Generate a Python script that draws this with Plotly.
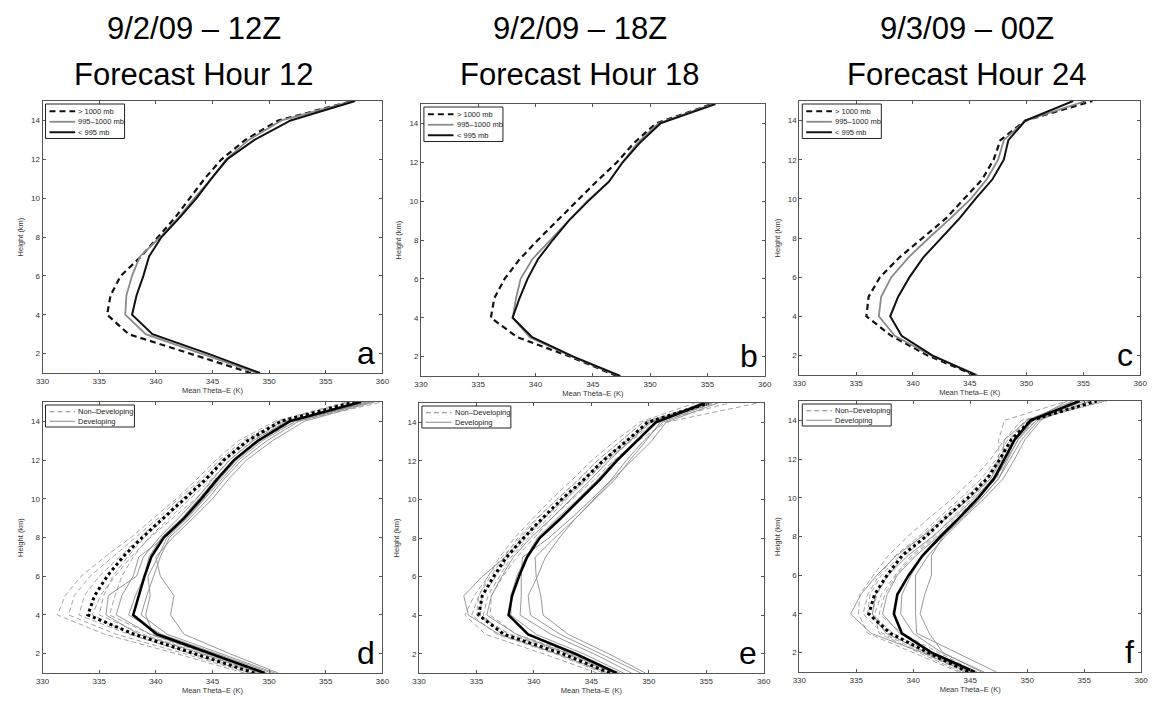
import plotly.graph_objects as go

HEIGHTS = list(range(1, 16))

# ---- top row: mean theta-e by minimum pressure class ----
A_GT1000 = [348.4, 343.1, 337.6, 335.7, 336.0, 336.9, 338.7, 340.2, 341.7, 343.0, 344.3, 345.8, 347.9, 350.8, 357.4]
A_995_1000 = [348.9, 344.0, 339.1, 337.3, 337.4, 337.9, 338.6, 340.4, 342.0, 343.4, 344.9, 346.2, 348.2, 351.1, 357.4]
A_LT995 = [349.2, 344.6, 339.7, 337.9, 338.3, 338.9, 339.4, 340.5, 342.1, 343.6, 344.9, 346.3, 348.7, 351.9, 357.6]

B_GT1000 = [347.1, 343.0, 338.4, 336.1, 336.4, 337.3, 338.6, 340.2, 341.9, 343.6, 345.3, 347.1, 348.6, 350.5, 355.4]
B_995_1000 = [347.3, 343.2, 339.5, 338.0, 338.3, 338.7, 339.7, 341.3, 342.9, 344.5, 346.4, 347.6, 348.9, 350.7, 355.5]
B_LT995 = [347.4, 343.3, 339.7, 338.0, 338.6, 339.3, 340.2, 341.5, 342.9, 344.6, 346.4, 347.6, 349.1, 350.9, 355.7]

C_GT1000 = [345.4, 341.3, 338.1, 335.9, 336.1, 337.1, 338.8, 340.9, 342.9, 344.5, 346.1, 347.1, 347.7, 349.9, 355.8]
C_995_1000 = [345.7, 341.6, 338.4, 337.0, 337.2, 338.1, 339.6, 341.4, 343.3, 345.1, 346.5, 347.5, 348.0, 349.9, 355.2]
C_LT995 = [345.5, 341.7, 339.0, 338.0, 338.7, 339.7, 340.9, 342.5, 344.1, 345.5, 347.0, 348.0, 348.4, 349.9, 354.1]

# ---- bottom row: individual members and means ----
D_NONDEV_MEAN = [348.7, 343.4, 338.1, 334.0, 334.6, 335.7, 337.1, 338.8, 340.7, 342.5, 344.4, 346.0, 348.1, 351.0, 357.5]
D_DEV_MEAN = [349.6, 344.9, 340.1, 338.0, 338.5, 339.0, 339.6, 340.7, 342.5, 344.0, 345.4, 346.9, 349.0, 351.8, 358.1]
D_NONDEV = [
    [347.8, 341.8, 335.5, 331.3, 332.0, 333.4, 335.5, 337.8, 339.8, 341.8, 343.6, 345.3, 347.3, 350.5, 356.8],
    [348.2, 342.5, 336.5, 332.3, 332.8, 334.2, 336.2, 338.2, 340.2, 342.0, 344.0, 345.6, 347.7, 350.8, 357.2],
    [348.9, 343.3, 337.6, 333.2, 333.7, 335.0, 336.8, 338.6, 340.5, 342.3, 344.2, 345.9, 348.0, 351.2, 358.0],
    [349.3, 344.0, 338.9, 335.0, 335.4, 336.2, 337.5, 339.0, 340.8, 342.7, 344.6, 346.2, 348.3, 351.3, 359.0],
    [349.6, 344.4, 339.5, 335.9, 336.4, 337.0, 338.0, 339.4, 341.2, 343.0, 344.9, 346.5, 348.5, 351.6, 359.5],
    [348.5, 343.0, 337.8, 334.4, 335.1, 336.4, 337.8, 339.5, 341.5, 343.5, 345.2, 347.0, 349.0, 352.4, 360.0],
]
D_DEV = [
    [349.2, 344.0, 338.5, 335.6, 335.8, 338.3, 338.9, 340.3, 342.0, 343.6, 345.0, 346.5, 348.6, 351.5, 357.8],
    [349.8, 344.8, 339.5, 336.5, 337.0, 338.0, 338.5, 340.8, 342.8, 344.3, 345.8, 347.3, 349.4, 352.3, 358.6],
    [350.2, 345.3, 340.5, 337.6, 338.2, 339.0, 339.4, 340.5, 342.3, 343.8, 345.3, 346.8, 348.9, 351.7, 358.0],
    [350.5, 345.8, 341.0, 338.7, 339.2, 339.8, 340.4, 341.2, 343.0, 344.6, 346.0, 347.6, 349.8, 352.6, 358.9],
    [350.8, 346.5, 342.5, 341.3, 341.6, 340.4, 340.0, 341.5, 343.3, 345.0, 346.4, 348.0, 350.3, 353.1, 359.2],
    [349.5, 344.5, 339.8, 339.1, 339.5, 339.3, 340.2, 341.0, 342.7, 344.2, 345.6, 347.1, 349.2, 352.0, 358.3],
]

E_NONDEV_MEAN = [346.6, 342.5, 337.4, 335.2, 335.5, 336.5, 337.6, 339.1, 340.7, 342.4, 344.3, 346.0, 348.0, 349.9, 355.2]
E_DEV_MEAN = [347.2, 343.6, 339.5, 337.8, 338.1, 338.7, 339.4, 340.5, 342.3, 344.0, 345.7, 347.2, 348.9, 350.6, 354.9]
E_NONDEV = [
    [345.5, 340.8, 335.8, 334.0, 334.8, 336.0, 337.0, 338.3, 339.9, 341.5, 343.3, 345.0, 347.0, 349.2, 354.0],
    [346.0, 341.8, 336.8, 334.6, 335.2, 336.0, 337.2, 338.8, 340.3, 342.0, 343.8, 345.5, 347.5, 349.5, 355.0],
    [346.8, 342.8, 337.8, 335.3, 335.5, 336.7, 337.8, 339.3, 340.9, 342.7, 344.6, 346.3, 348.4, 350.5, 357.0],
    [347.3, 343.5, 338.5, 336.2, 336.3, 337.3, 338.5, 340.0, 341.5, 343.3, 345.2, 346.9, 349.0, 351.5, 359.5],
    [346.2, 342.0, 337.2, 335.6, 336.0, 337.0, 338.0, 339.5, 341.2, 342.8, 344.5, 346.2, 348.3, 350.0, 356.0],
    [347.5, 343.2, 338.0, 335.0, 335.2, 336.2, 337.4, 338.6, 340.2, 342.0, 343.9, 345.5, 347.5, 349.5, 355.5],
]
E_DEV = [
    [346.5, 342.0, 337.0, 334.3, 333.9, 335.5, 337.5, 339.0, 340.8, 342.5, 344.3, 345.9, 348.0, 350.0, 355.0],
    [347.0, 343.0, 338.5, 335.9, 336.3, 337.2, 338.2, 339.7, 341.5, 343.2, 344.9, 346.5, 348.3, 350.2, 354.6],
    [348.5, 345.2, 341.5, 338.8, 338.9, 338.9, 339.0, 341.3, 343.2, 345.0, 346.7, 348.0, 349.5, 351.2, 355.5],
    [349.3, 345.8, 342.3, 339.7, 339.5, 340.3, 341.0, 342.2, 343.6, 345.3, 347.0, 348.3, 349.7, 351.0, 354.5],
    [349.7, 346.5, 343.0, 340.8, 340.6, 340.2, 340.1, 341.8, 343.6, 345.2, 346.8, 348.5, 350.2, 351.5, 356.0],
    [347.8, 344.3, 340.2, 338.0, 338.0, 338.5, 339.3, 340.3, 342.0, 343.8, 345.5, 347.0, 348.8, 350.8, 355.3],
]

F_NONDEV_MEAN = [344.8, 341.3, 338.0, 336.1, 336.6, 337.7, 339.0, 341.1, 342.9, 344.8, 346.5, 347.6, 348.6, 350.3, 356.1]
F_DEV_MEAN = [345.4, 341.6, 339.0, 338.3, 338.6, 339.6, 340.8, 342.4, 344.1, 345.7, 347.1, 348.0, 348.9, 350.3, 354.6]
F_NONDEV = [
    [344.0, 340.0, 336.0, 335.2, 335.3, 336.5, 337.8, 339.5, 341.5, 343.5, 345.3, 346.8, 348.0, 349.5, 356.5],
    [344.5, 340.8, 337.3, 335.6, 336.0, 337.0, 338.4, 340.5, 342.3, 344.2, 346.0, 347.3, 348.3, 350.0, 357.0],
    [345.0, 341.5, 338.2, 336.4, 336.8, 337.8, 339.2, 341.2, 343.0, 344.9, 346.6, 347.7, 348.7, 350.5, 356.8],
    [345.5, 342.3, 339.0, 337.0, 337.5, 338.5, 340.0, 342.0, 343.8, 345.6, 347.3, 348.2, 348.9, 350.8, 355.5],
    [344.2, 340.5, 337.0, 336.6, 337.2, 338.4, 339.8, 341.8, 343.4, 345.2, 346.8, 347.5, 347.5, 348.0, 353.5],
    [345.2, 341.0, 337.8, 336.0, 336.2, 337.2, 338.8, 340.7, 342.6, 344.5, 346.3, 347.5, 348.5, 349.8, 355.8],
]
F_DEV = [
    [344.8, 340.8, 336.3, 334.5, 335.4, 336.8, 338.5, 340.8, 343.0, 345.0, 346.8, 347.8, 348.0, 350.0, 354.0],
    [345.0, 341.2, 337.6, 336.4, 336.7, 337.8, 339.5, 341.7, 343.6, 345.4, 347.0, 348.0, 348.8, 350.5, 355.0],
    [345.6, 341.8, 338.8, 337.3, 337.7, 338.6, 340.2, 342.2, 344.0, 345.6, 347.2, 348.2, 349.2, 350.8, 354.3],
    [346.2, 342.5, 340.0, 338.9, 339.0, 339.8, 340.8, 342.6, 344.4, 346.0, 347.5, 348.5, 349.5, 351.0, 355.5],
    [347.3, 343.8, 340.3, 340.2, 340.2, 340.2, 341.3, 342.8, 344.5, 346.3, 347.9, 348.9, 349.8, 351.2, 354.0],
    [346.0, 342.6, 341.4, 340.6, 341.0, 341.6, 341.6, 342.6, 344.2, 346.0, 347.5, 348.3, 349.2, 350.5, 353.5],
]

TITLES_L1 = ["9/2/09 \u2013 12Z", "9/2/09 \u2013 18Z", "9/3/09 \u2013 00Z"]
TITLES_L2 = ["Forecast Hour 12", "Forecast Hour 18", "Forecast Hour 24"]
PANEL_LETTERS = ["a", "b", "c", "d", "e", "f"]
TOP_NAMES = ["> 1000 mb", "995\u20131000 mb", "< 995 mb"]
BOTTOM_NAMES = ["Non\u2013Developing", "Developing"]
X_TICKS = [330, 335, 340, 345, 350, 355, 360]
Y_TICKS = [2, 4, 6, 8, 10, 12, 14]

W, H = 1160, 702
# pixel boxes (left, right, top, bottom) of each panel
BOXES = [
    (36, 380, 101, 373), (419, 767, 104, 376), (802, 1147, 101, 375),
    (36, 380, 402, 673), (417, 766, 403, 673), (802, 1148, 401, 672),
]

FONT = "Liberation Sans, Arial, sans-serif"

# styles
TOP_STYLES = [("#111111", 2.2, "6px,4px"), ("#8a8a8a", 1.8, "solid"), ("#111111", 2.0, "solid")]
BOT_STYLES = [("#9a9a9a", 0.9, "5px,3px"), ("#8c8c8c", 0.9, "solid")]

fig = go.Figure()


def ax_suffix(i):
    return "" if i == 0 else str(i + 1)


def add(i, x, name, style):
    color, width, dash = style
    s = ax_suffix(i)
    fig.add_trace(go.Scatter(
        x=x, y=HEIGHTS, mode="lines", name=name,
        line=dict(color=color, width=width, dash=dash),
        xaxis="x" + s, yaxis="y" + s, showlegend=False, hoverinfo="skip"))


top_sets = [(A_GT1000, A_995_1000, A_LT995), (B_GT1000, B_995_1000, B_LT995), (C_GT1000, C_995_1000, C_LT995)]
for i, series in enumerate(top_sets):
    for k, ser in enumerate(series):
        add(i, ser, TOP_NAMES[k], TOP_STYLES[k])

bot_sets = [(D_NONDEV, D_DEV, D_NONDEV_MEAN, D_DEV_MEAN),
            (E_NONDEV, E_DEV, E_NONDEV_MEAN, E_DEV_MEAN),
            (F_NONDEV, F_DEV, F_NONDEV_MEAN, F_DEV_MEAN)]
for j, (nd, dv, ndm, dvm) in enumerate(bot_sets):
    i = j + 3
    for m in nd:
        add(i, m, BOTTOM_NAMES[0], BOT_STYLES[0])
    for m in dv:
        add(i, m, BOTTOM_NAMES[1], BOT_STYLES[1])
    add(i, ndm, "Non\u2013Developing mean", ("#000000", 3.0, "3px,3px"))
    add(i, dvm, "Developing mean", ("#000000", 2.6, "solid"))

layout = dict(width=W, height=H, margin=dict(l=0, r=0, t=0, b=0),
              paper_bgcolor="white", plot_bgcolor="white", showlegend=False,
              font=dict(family=FONT, color="#333333", size=8))
annotations = []
shapes = []


def PX(x):
    return x / W


def PY(y):
    return 1 - y / H


for i, (l, r, t, b) in enumerate(BOXES):
    s = ax_suffix(i)
    xd = [l / W, r / W]
    yd = [1 - b / H, 1 - t / H]
    axis_common = dict(showline=True, linecolor="#555555", linewidth=1, mirror="ticks",
                       ticks="inside", ticklen=3, tickcolor="#555555", showgrid=False,
                       zeroline=False, tickfont=dict(size=8, color="#333333", family=FONT))
    layout["xaxis" + s] = dict(domain=xd, range=[330, 360], tickvals=X_TICKS,
                               anchor="y" + s,
                               title=dict(text="Mean Theta\u2013E (K)", font=dict(size=7.5, color="#333333"), standoff=2),
                               **axis_common)
    layout["yaxis" + s] = dict(domain=yd, range=[1, 15], tickvals=Y_TICKS,
                               anchor="x" + s,
                               title=dict(text="Height (km)", font=dict(size=7.5, color="#333333"), standoff=6),
                               **axis_common)
    annotations.append(dict(text=PANEL_LETTERS[i], x=0.985, y=0.0,
                            xref="x" + s + " domain", yref="y" + s + " domain",
                            xanchor="right", yanchor="bottom", showarrow=False,
                            font=dict(size=32, color="black", family=FONT)))

    # manual compact legend (matches MATLAB style)
    if i < 3:
        names, styles, bw, row_h = TOP_NAMES, TOP_STYLES, 80, 10.5
    else:
        names, styles, bw, row_h = BOTTOM_NAMES, [("#8a8a8a", 1.0, "5px,3px"), ("#8a8a8a", 1.0, "solid")], 90, 9.5
    bx0, by0 = l + 3, t + 3
    bh = row_h * len(names) + 3
    shapes.append(dict(type="rect", xref="paper", yref="paper",
                       x0=PX(bx0), x1=PX(bx0 + bw), y0=PY(by0), y1=PY(by0 + bh),
                       line=dict(color="#222222", width=1), fillcolor="white", layer="above"))
    for k, name in enumerate(names):
        cy = by0 + 2 + row_h * (k + 0.5)
        color, width, dash = styles[k]
        shapes.append(dict(type="line", xref="paper", yref="paper",
                           x0=PX(bx0 + 4), x1=PX(bx0 + 30), y0=PY(cy), y1=PY(cy),
                           line=dict(color=color, width=width, dash=dash), layer="above"))
        annotations.append(dict(text=name, x=PX(bx0 + 31), y=PY(cy), xref="paper", yref="paper",
                                xanchor="left", yanchor="middle", showarrow=False,
                                font=dict(size=7.5, color="#222222", family=FONT)))

title_x = [189, 580, 972]
for k in range(3):
    annotations.append(dict(text=TITLES_L1[k], x=title_x[k] / W, y=1 - 28 / H, xref="paper", yref="paper",
                            xanchor="center", yanchor="middle", showarrow=False,
                            font=dict(size=31, color="black", family=FONT)))
    annotations.append(dict(text=TITLES_L2[k], x=title_x[k] / W, y=1 - 75 / H, xref="paper", yref="paper",
                            xanchor="center", yanchor="middle", showarrow=False,
                            font=dict(size=31, color="black", family=FONT)))
layout["annotations"] = annotations
layout["shapes"] = shapes
fig.update_layout(**layout)
fig.write_html("out.html")
